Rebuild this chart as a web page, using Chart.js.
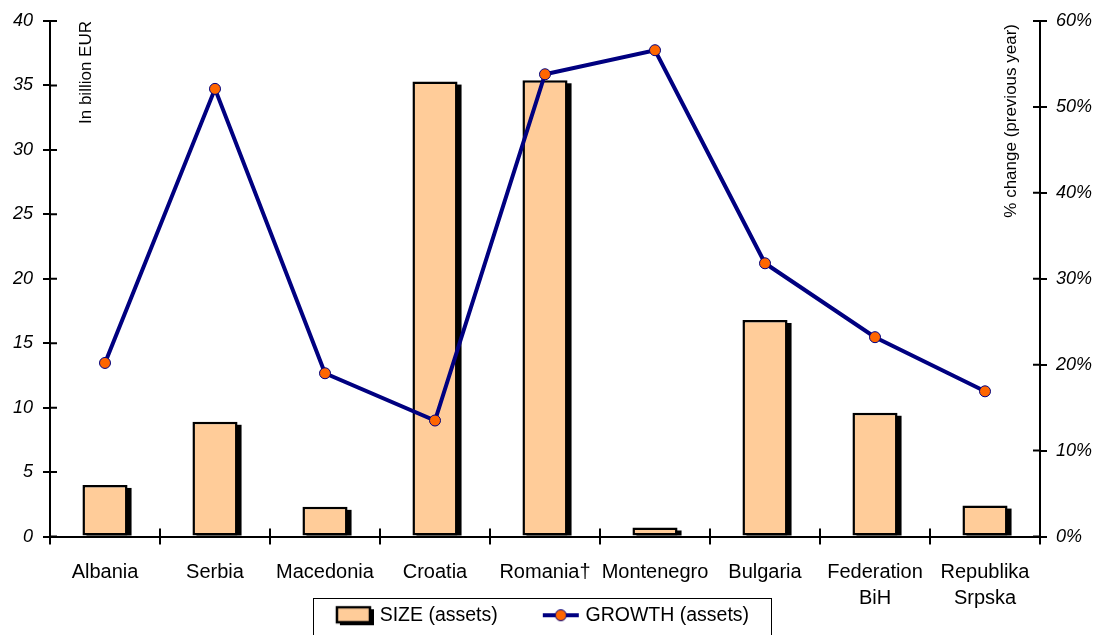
<!DOCTYPE html>
<html>
<head>
<meta charset="utf-8">
<script src="https://cdn.jsdelivr.net/npm/chart.js@4"></script>
<style>
  html, body { margin: 0; padding: 0; background: #fff; }
  #wrap { width: 1097px; height: 635px; }
</style>
</head>
<body>
<div id="wrap"><canvas id="chart"></canvas></div>
<script>
// data
const countries = ['Albania', 'Serbia', 'Macedonia', 'Croatia', 'Romania†', 'Montenegro', 'Bulgaria', ['Federation', 'BiH'], ['Republika', 'Srpska']];
const sizeAssets = [4.0, 8.9, 2.3, 35.3, 35.4, 0.7, 16.8, 9.6, 2.4];
const growthAssets = [20.2, 52.1, 19.0, 13.5, 53.8, 56.6, 31.8, 23.2, 16.9];
const leftTicks = { min: 0, max: 40, step: 5 };
const rightTicks = { min: 0, max: 60, step: 10 };

const FONT = "'Liberation Sans', Arial, sans-serif";
const NAVY = '#000080';
const PEACH = '#FFCC99';
const ORANGE = '#FF6600';
const SW = 78;      // legend slot width given to chart.js
const IW = SW + 8;  // swatch image width (overhangs the slot by 4px each side)

// legend swatches, sitting at the right end of the image
function barSwatch() {
    const c = document.createElement('canvas');
    c.width = IW; c.height = 22;
    const g = c.getContext('2d');
    g.fillStyle = '#000';
    g.fillRect(IW - 34, 5, 34, 16);
    g.fillStyle = PEACH;
    g.fillRect(IW - 37, 3, 33, 15);
    g.strokeStyle = '#000';
    g.lineWidth = 2.5;
    g.strokeRect(IW - 37, 3, 33, 15);
    return c;
}
function lineSwatch() {
    const c = document.createElement('canvas');
    c.width = IW; c.height = 16;
    const g = c.getContext('2d');
    g.strokeStyle = NAVY;
    g.lineWidth = 4;
    g.beginPath(); g.moveTo(IW - 37, 8); g.lineTo(IW - 1, 8); g.stroke();
    g.beginPath(); g.arc(IW - 19, 8, 5.5, 0, Math.PI * 2);
    g.fillStyle = ORANGE; g.fill();
    g.lineWidth = 1; g.stroke();
    return c;
}

// black drop shadow behind each bar
const barShadow = {
    id: 'barShadow',
    beforeDatasetDraw(chart, args) {
        if (args.meta.type !== 'bar') return;
        const ctx = chart.ctx;
        ctx.save();
        ctx.fillStyle = '#000';
        args.meta.data.forEach(b => {
            const w = b.width;
            ctx.fillRect(b.x - w / 2 + 4, b.y + 3, w, b.base - b.y - 3);
        });
        ctx.restore();
    }
};

// inward tick stubs, axis titles, legend frame
const extras = {
    id: 'extras',
    afterLayout(chart) {
        const lg = chart.legend;
        lg.left -= 28; lg.right -= 28;
        lg.top -= 6; lg.bottom -= 6;
    },
    afterDraw(chart) {
        const ctx = chart.ctx;
        const a = chart.chartArea;
        const yl = chart.scales.y, yr = chart.scales.y2;
        ctx.save();
        ctx.strokeStyle = '#000';
        ctx.lineWidth = 2;
        ctx.beginPath();
        yl.ticks.forEach((t, i) => {
            const py = yl.getPixelForTick(i);
            ctx.moveTo(a.left, py); ctx.lineTo(a.left + 7, py);
        });
        yr.ticks.forEach((t, i) => {
            const py = yr.getPixelForTick(i);
            ctx.moveTo(a.right, py); ctx.lineTo(a.right - 7, py);
        });
        const step = (a.right - a.left) / countries.length;
        for (let i = 1; i < countries.length; i++) {
            const px = a.left + step * i;
            ctx.moveTo(px, a.bottom); ctx.lineTo(px, a.bottom - 8);
        }
        ctx.stroke();

        ctx.fillStyle = '#000';
        ctx.font = '17px ' + FONT;
        ctx.textAlign = 'right';
        ctx.textBaseline = 'middle';
        ctx.save();
        ctx.translate(a.left + 36, a.top);
        ctx.rotate(-Math.PI / 2);
        ctx.fillText('In billion EUR', 0, 0);
        ctx.restore();
        ctx.save();
        ctx.translate(a.right - 29, a.top + 3);
        ctx.rotate(-Math.PI / 2);
        ctx.fillText('% change (previous year)', 0, 0);
        ctx.restore();

        const hb = chart.legend.legendHitBoxes;
        if (hb && hb.length) {
            const first = hb[0], last = hb[hb.length - 1];
            const l = first.left + SW + 4 - 37 - 24;
            const r = last.left + last.width + 22;
            const t = chart.legend.top - 8;
            ctx.lineWidth = 1;
            ctx.strokeRect(Math.round(l) + 0.5, Math.round(t) + 0.5, Math.round(r - l), 60);
        }
        ctx.restore();
    }
};

const ctx = document.getElementById('chart').getContext('2d');
const myChart = new Chart(ctx, {
    data: {
        labels: countries,
        datasets: [
            {
                type: 'line',
                label: 'GROWTH (assets)',
                data: growthAssets,
                yAxisID: 'y2',
                borderColor: NAVY,
                borderWidth: 4,
                tension: 0,
                pointRadius: 5.5,
                pointBackgroundColor: ORANGE,
                pointBorderColor: NAVY,
                pointBorderWidth: 1
            },
            {
                type: 'bar',
                label: 'SIZE (assets)',
                data: sizeAssets,
                yAxisID: 'y',
                backgroundColor: PEACH,
                borderColor: '#000',
                borderWidth: 2.5,
                borderSkipped: false,
                categoryPercentage: 1,
                barPercentage: 0.41
            }
        ]
    },
    options: {
        responsive: true,
        maintainAspectRatio: false,
        animation: false,
        layout: { padding: { top: 21, right: 0, left: 0, bottom: -6 } },
        plugins: {
            tooltip: { enabled: false },
            legend: {
                position: 'bottom',
                labels: {
                    usePointStyle: true,
                    pointStyleWidth: SW,
                    padding: 0,
                    color: '#000',
                    font: { family: FONT, size: 19.5 },
                    generateLabels: () => [
                        { text: 'SIZE (assets)', pointStyle: barSwatch(), fontColor: '#000', lineWidth: 0, strokeStyle: 'rgba(0,0,0,0)', fillStyle: 'rgba(0,0,0,0)', datasetIndex: 1 },
                        { text: 'GROWTH (assets)', pointStyle: lineSwatch(), fontColor: '#000', lineWidth: 0, strokeStyle: 'rgba(0,0,0,0)', fillStyle: 'rgba(0,0,0,0)', datasetIndex: 0 }
                    ]
                }
            }
        },
        scales: {
            x: {
                offset: true,
                grid: { display: true, offset: true, drawOnChartArea: false, color: '#000', lineWidth: 2, tickLength: 8 },
                border: { color: '#000', width: 2 },
                ticks: { color: '#000', font: { family: FONT, size: 20, lineHeight: 1.3 }, padding: 15, maxRotation: 0, autoSkip: false },
                afterFit(s) { s.height = 75; }
            },
            y: {
                position: 'left',
                min: leftTicks.min, max: leftTicks.max,
                grid: { drawOnChartArea: false, color: '#000', lineWidth: 2, tickLength: 7 },
                border: { color: '#000', width: 2 },
                ticks: { stepSize: leftTicks.step, color: '#000', padding: 10, font: { family: FONT, size: 18, style: 'italic' } },
                afterFit(s) { s.width = 50; }
            },
            y2: {
                position: 'right',
                min: rightTicks.min, max: rightTicks.max,
                grid: { drawOnChartArea: false, color: '#000', lineWidth: 2, tickLength: 7 },
                border: { color: '#000', width: 2 },
                ticks: { stepSize: rightTicks.step, color: '#000', padding: 9, font: { family: FONT, size: 18, style: 'italic' }, callback: v => v + '%' },
                afterFit(s) { s.width = 57; }
            }
        }
    },
    plugins: [barShadow, extras]
});
</script>
</body>
</html>
